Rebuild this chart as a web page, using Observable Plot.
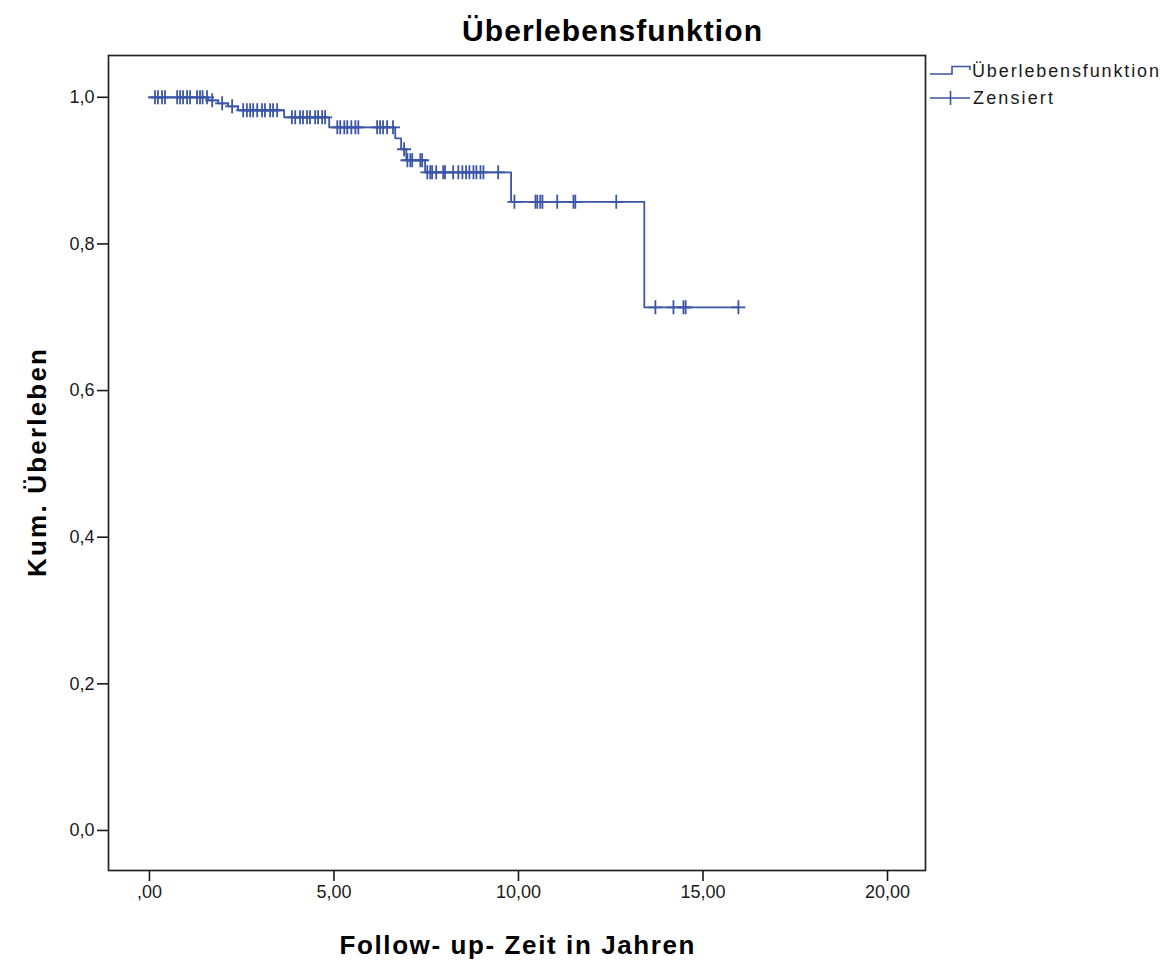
<!DOCTYPE html>
<html><head><meta charset="utf-8">
<script src="https://cdn.jsdelivr.net/npm/d3@7"></script>
<script src="https://cdn.jsdelivr.net/npm/@observablehq/plot@0.6"></script>
<style>
html,body{margin:0;padding:0;background:#fff;}
#chart{position:relative;width:1171px;height:962px;}
</style></head><body><div id="chart"></div>
<script>
// ---- data ----
const eventTimes = [0, 1.59, 1.86, 2.13, 2.40, 3.65, 4.87, 6.66, 6.82, 6.96, 7.47, 9.80, 13.41, 15.96];
const survival   = [1.0, 0.9959, 0.9918, 0.9877, 0.9823, 0.9727, 0.9591, 0.9441, 0.9291, 0.9141, 0.8977, 0.8574, 0.7135, 0.7135];
const censoredTimes = [
  0.15, 0.23, 0.34, 0.42, 0.75, 0.83, 0.91, 1.02, 1.10, 1.29, 1.37, 1.44, 1.56,
  1.70, 1.97, 2.24,
  2.54, 2.64, 2.73, 2.81, 2.92, 3.05, 3.13, 3.27, 3.35, 3.46,
  3.86, 3.95, 4.08, 4.16, 4.27, 4.35, 4.49, 4.57, 4.68, 4.76,
  5.09, 5.17, 5.28, 5.36, 5.47, 5.58, 5.66, 6.17, 6.25, 6.33, 6.44, 6.60,
  6.90,
  6.99, 7.07, 7.12, 7.34, 7.39,
  7.53, 7.61, 7.66, 7.77, 7.96, 8.01, 8.23, 8.37, 8.48, 8.58, 8.67, 8.78, 8.86, 8.97, 9.05, 9.45,
  9.89, 10.46, 10.51, 10.59, 10.65, 11.05, 11.49, 11.54, 12.65,
  13.71, 14.20, 14.47, 14.53, 15.96
];
const xTicks = [0, 5, 10, 15, 20];
const xTickLabels = [",00", "5,00", "10,00", "15,00", "20,00"];
const yTicks = [0, 0.2, 0.4, 0.6, 0.8, 1.0];
const yTickLabels = ["0,0", "0,2", "0,4", "0,6", "0,8", "1,0"];
const titleText = "Überlebensfunktion";
const xLabel = "Follow- up- Zeit in Jahren";
const yLabel = "Kum. Überleben";
const legendLabels = ["Überlebensfunktion", "Zensiert"];
const lineColor = "#3b56a8";

// ---- derived tables ----
const curve = eventTimes.map((t, i) => ({time: t, surv: survival[i]}));
function survAt(t) {
  let s = survival[0];
  for (let i = 0; i < eventTimes.length; i++) if (eventTimes[i] <= t) s = survival[i];
  return s;
}
const censored = censoredTimes.map(t => ({time: t, surv: survAt(t)}));

const thinPlus = {
  draw(ctx, size) {
    const r = Math.sqrt(size / Math.PI);
    ctx.moveTo(-r, 0); ctx.lineTo(r, 0);
    ctx.moveTo(0, -r); ctx.lineTo(0, r);
  }
};

const chart = Plot.plot({
  width: 1171, height: 962,
  marginLeft: 108, marginRight: 246, marginTop: 55, marginBottom: 92,
  x: {domain: [-1.11, 21.03]},
  y: {domain: [-0.0546, 1.057]},
  style: {fontFamily: "'Liberation Sans', Arial, sans-serif", fontSize: "18px", color: "#1a1a1a", background: "#fff", overflow: "visible"},
  marks: [
    Plot.line(curve, {x: "time", y: "surv", curve: "step-after", stroke: lineColor, strokeWidth: 1.8}),
    Plot.dot(censored, {x: "time", y: "surv", symbol: thinPlus, r: 7, stroke: lineColor, fill: "none", strokeWidth: 1.8}),
    Plot.axisX(xTicks, {tickFormat: d => xTickLabels[xTicks.indexOf(d)], tickSize: 11, tickPadding: 4, label: null, strokeWidth: 1.6}),
    Plot.axisY(yTicks, {tickFormat: d => yTickLabels[yTicks.indexOf(d)], tickSize: 11, tickPadding: 3, label: null, strokeWidth: 1.6}),
    Plot.frame({stroke: "#222", strokeWidth: 1.7})
  ]
});
document.getElementById("chart").appendChild(chart);

// ---- titles, labels & legend ----
const svg = d3.select(chart);
const ff = "'Liberation Sans', Arial, sans-serif";
svg.append("text").text(titleText)
  .attr("x", 612).attr("y", 41).attr("text-anchor", "middle")
  .attr("font-family", ff).attr("font-weight", "bold").attr("font-size", 30)
  .attr("textLength", 300).attr("lengthAdjust", "spacing").attr("fill", "#000");
svg.append("text").text(xLabel)
  .attr("x", 517).attr("y", 954).attr("text-anchor", "middle")
  .attr("font-family", ff).attr("font-weight", "bold").attr("font-size", 26)
  .attr("textLength", 355).attr("lengthAdjust", "spacing").attr("fill", "#000");
svg.append("text").text(yLabel)
  .attr("transform", "translate(46,463) rotate(-90)").attr("text-anchor", "middle")
  .attr("font-family", ff).attr("font-weight", "bold").attr("font-size", 26)
  .attr("textLength", 228).attr("lengthAdjust", "spacing").attr("fill", "#000");

const lg = svg.append("g").attr("font-family", ff).attr("font-size", 18).attr("fill", "#1a1a1a").attr("text-anchor", "start");
lg.append("path").attr("d", "M930,74H952V66.5H970V70").attr("fill", "none").attr("stroke", lineColor).attr("stroke-width", 1.6);
lg.append("text").text(legendLabels[0]).attr("x", 972).attr("y", 77).attr("text-anchor", "start")
  .attr("textLength", 187).attr("lengthAdjust", "spacing");
lg.append("path").attr("d", "M930,98H970M950.5,91V105").attr("fill", "none").attr("stroke", lineColor).attr("stroke-width", 1.6);
lg.append("text").text(legendLabels[1]).attr("x", 973).attr("y", 104).attr("text-anchor", "start")
  .attr("textLength", 80).attr("lengthAdjust", "spacing");
</script>
</body></html>
